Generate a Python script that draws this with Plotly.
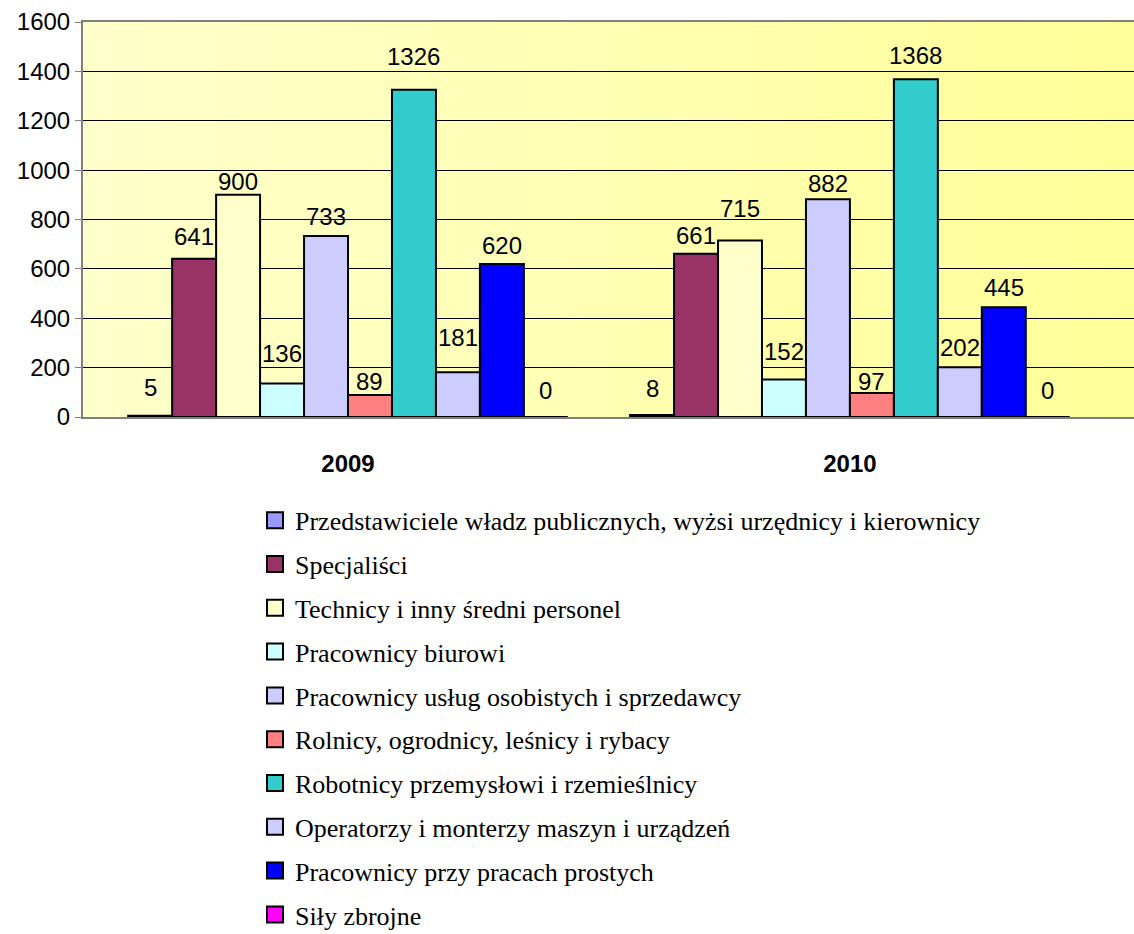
import plotly.graph_objects as go

# ---- data ----
years = ["2009", "2010"]
series_names = [
    "Przedstawiciele władz publicznych, wyżsi urzędnicy i kierownicy",
    "Specjaliści",
    "Technicy i inny średni personel",
    "Pracownicy biurowi",
    "Pracownicy usług osobistych i sprzedawcy",
    "Rolnicy, ogrodnicy, leśnicy i rybacy",
    "Robotnicy przemysłowi i rzemieślnicy",
    "Operatorzy i monterzy maszyn i urządzeń",
    "Pracownicy przy pracach prostych",
    "Siły zbrojne",
]
przedstawiciele = [5, 8]
specjalisci = [641, 661]
technicy = [900, 715]
biurowi = [136, 152]
uslugi = [733, 882]
rolnicy = [89, 97]
robotnicy = [1326, 1368]
operatorzy = [181, 202]
proste = [620, 445]
sily = [0, 0]
series_values = [przedstawiciele, specjalisci, technicy, biurowi, uslugi,
                 rolnicy, robotnicy, operatorzy, proste, sily]
series_colors = ["#9999FF", "#993366", "#FFFFCC", "#CCFFFF", "#CCCCFF",
                 "#FF8080", "#33CCCC", "#CCCCFF", "#0000FF", "#FF00FF"]
y_ticks = [0, 200, 400, 600, 800, 1000, 1200, 1400, 1600]

# label placement (pixels above the bar top, per series: [2009, 2010])
label_shift = [[28, 27], [22, 18], [13, 32], [30, 28], [20, 16],
               [14, 12], [33, 24], [35, 20], [18, 20], [27, 27]]

BARGAP = 0.124
LABEL_FONT = dict(family="Liberation Sans, Arial", size=24, color="black")
fig = go.Figure()
n = len(series_names)
for i, (name, vals, col) in enumerate(zip(series_names, series_values, series_colors)):
    fig.add_trace(go.Bar(
        x=years, y=vals, name=name, showlegend=False,
        marker=dict(color=col, line=dict(color="black", width=2)),
        hoverinfo="skip",
    ))
# legend entries (square swatches like the original)
for i, (name, col) in enumerate(zip(series_names, series_colors)):
    fig.add_trace(go.Scatter(
        x=[None], y=[None], mode="markers", name=name, legendgroup=f"g{i}",
        marker=dict(symbol="square", size=16, color=col,
                    line=dict(color="black", width=2)),
    ))

# data labels
annotations = []
for i, vals in enumerate(series_values):
    for g, v in enumerate(vals):
        xpos = g + (1 - BARGAP) * ((i + 0.5) / n - 0.5)
        annotations.append(dict(
            x=xpos, y=v, xref="x", yref="y", text=str(v), showarrow=False,
            yanchor="middle", yshift=label_shift[i][g], font=LABEL_FONT,
        ))

# gradient background via stripes
shapes = []
NS = 80
c0 = (255, 255, 204)
c1 = (255, 255, 153)
for k in range(NS):
    t = (k + 0.5) / NS
    c = tuple(round(a + (b - a) * t) for a, b in zip(c0, c1))
    shapes.append(dict(
        type="rect", xref="x domain", yref="y domain",
        x0=k / NS, x1=(k + 1) / NS + 0.002, y0=0, y1=1,
        fillcolor="rgb(%d,%d,%d)" % c, line=dict(width=0), layer="below",
    ))

fig.update_layout(
    width=1134, height=934,
    margin=dict(l=83, r=0, t=22, b=517, pad=0, autoexpand=False),
    paper_bgcolor="white", plot_bgcolor="#FFFFB3",
    barmode="group", bargap=BARGAP, bargroupgap=0,
    shapes=shapes, annotations=annotations,
    showlegend=True,
    legend=dict(
        x=(255 - 83) / 1051, xanchor="left", y=-0.202, yanchor="top",
        orientation="v", traceorder="grouped", tracegroupgap=7,
        itemsizing="trace",
        font=dict(family="Liberation Serif, Times New Roman", size=26, color="black"),
        bgcolor="rgba(0,0,0,0)",
    ),
    font=dict(family="Liberation Sans, Arial", color="black"),
)
fig.update_xaxes(
    type="category", range=[-0.528, 1.566], automargin=False,
    showline=True, linecolor="#808080", linewidth=2, mirror=True,
    ticks="", showgrid=False,
    tickfont=dict(family="Liberation Sans, Arial", size=24, color="black", weight="bold"),
    ticklabelstandoff=24,
)
fig.update_yaxes(
    range=[0, 1600], tickvals=y_ticks, automargin=False,
    showline=True, linecolor="#808080", linewidth=2,
    ticks="outside", ticklen=6, tickcolor="#808080", tickwidth=1,
    showgrid=True, gridcolor="black", gridwidth=1,
    zeroline=False,
    tickfont=dict(family="Liberation Sans, Arial", size=24, color="black"),
)

fig.write_html(
    "out.html",
    config={"displayModeBar": False},
    post_script="document.body.style.margin='0';document.body.style.padding='0';",
)
